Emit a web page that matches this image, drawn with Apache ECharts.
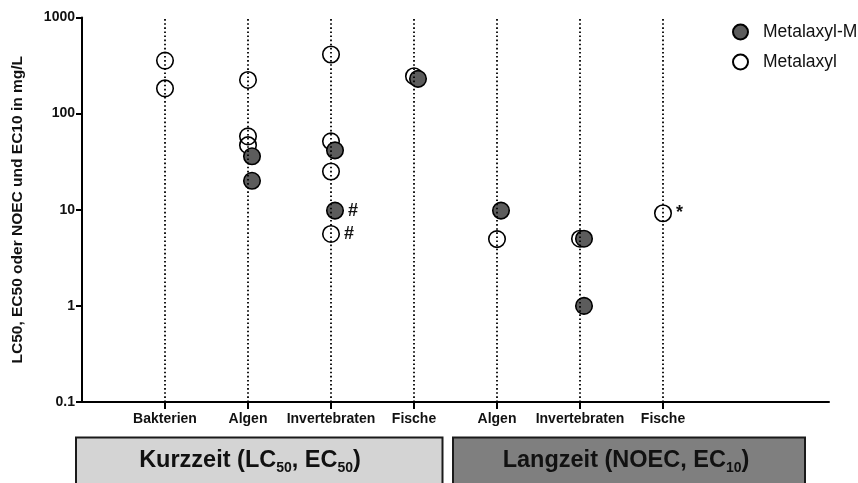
<!DOCTYPE html>
<html>
<head>
<meta charset="utf-8">
<script src="https://cdn.jsdelivr.net/npm/echarts@6/dist/echarts.min.js"></script>
<style>
  html, body { margin: 0; padding: 0; background: #ffffff; }
  #chart { width: 858px; height: 483px; }
</style>
</head>
<body>
<div id="chart"></div>
<script>
// ---- data ----
const categories = ['Bakterien', 'Algen', 'Invertebraten', 'Fische', 'Algen', 'Invertebraten', 'Fische'];
const yTicks = [0.1, 1, 10, 100, 1000];
const yName = 'LC50, EC50 oder NOEC und EC10 in mg/L';

// Metalaxyl-M (filled)
const metMCat   = [1, 1, 2, 2, 3, 4, 5, 5];
const metMVal   = [36, 20, 41.5, 9.8, 230, 9.8, 5, 1];
const metMNote  = ['', '', '', '#', '', '', '', ''];

// Metalaxyl (open)
const metCat    = [0, 0, 1, 1, 1, 2, 2, 2, 2, 3, 4, 5, 6];
const metVal    = [356, 183, 224, 58, 47, 412, 51.5, 25, 5.6, 245, 4.95, 5, 9.2];
const metNote   = ['', '', '', '', '', '', '', '', '#', '', '', '', '*'];

const seriesNames = ['Metalaxyl-M', 'Metalaxyl'];
const groupLabels = [
  ['Kurzzeit (LC', '50', ', EC', '50', ')'],
  ['Langzeit (NOEC, EC', '10', ')']
];

// ---- chart ----
const chart = echarts.init(document.getElementById('chart'), null, { renderer: 'canvas' });
const FONT = '"Liberation Sans", Arial, Helvetica, sans-serif';

function toPoints(cats, vals) {
  return cats.map((c, i) => [c + 1, vals[i]]);
}

function richText(parts) {
  return parts.map((p, i) => (i % 2 === 0 ? '{m|' + p + '}' : '{s|' + p + '}')).join('');
}
const richStyles = {
  m: { fontSize: 23.5, fontWeight: 'bold', fontFamily: FONT, fill: '#111', lineHeight: 28 },
  s: { fontSize: 14, fontWeight: 'bold', fontFamily: FONT, fill: '#111', lineHeight: 14, verticalAlign: 'bottom' }
};

const option = {
  animation: false,
  backgroundColor: '#ffffff',
  textStyle: { fontFamily: FONT },
  grid: { left: 82, right: 29, top: 17.5, bottom: 81, containLabel: false, outerBoundsMode: 'none' },
  legend: {
    orient: 'vertical',
    left: 727,
    top: 18,
    itemWidth: 35,
    itemHeight: 15,
    itemGap: 12,
    symbolKeepAspect: true,
    data: [
      { name: seriesNames[0], icon: 'circle' },
      { name: seriesNames[1], icon: 'circle' }
    ],
    textStyle: { fontSize: 17.5, color: '#111', fontFamily: FONT, lineHeight: 18 },
    selectedMode: false
  },
  xAxis: {
    type: 'value',
    min: 0,
    max: 9,
    interval: 1,
    splitLine: { show: false },
    axisLine: { lineStyle: { color: '#000', width: 2 } },
    axisTick: {
      show: true,
      length: 7,
      lineStyle: { color: '#000', width: 2 },
      customValues: categories.map((c, i) => i + 1)
    },
    axisLabel: {
      customValues: categories.map((c, i) => i + 1),
      formatter: v => categories[Math.round(v) - 1] || '',
      fontSize: 14,
      fontWeight: 'bold',
      color: '#111',
      margin: 10,
      fontFamily: FONT
    }
  },
  yAxis: {
    type: 'log',
    logBase: 10,
    min: yTicks[0],
    max: yTicks[yTicks.length - 1],
    name: yName,
    nameLocation: 'middle',
    nameGap: 56,
    nameTextStyle: { fontSize: 15.5, fontWeight: 'bold', color: '#111', fontFamily: FONT },
    splitLine: { show: false },
    minorTick: { show: false },
    axisLine: { show: true, lineStyle: { color: '#000', width: 2 } },
    axisTick: { show: true, length: 6, lineStyle: { color: '#000', width: 2 } },
    axisLabel: {
      fontSize: 14,
      fontWeight: 'bold',
      color: '#111',
      margin: 7,
      fontFamily: FONT,
      formatter: v => String(v)
    }
  },
  series: [
    {
      name: seriesNames[1],
      type: 'scatter',
      z: 2,
      symbol: 'circle',
      symbolSize: 16.5,
      itemStyle: { color: 'rgba(255,255,255,0)', borderColor: '#000', borderWidth: 1.6, opacity: 1 },
      emphasis: { disabled: true },
      label: {
        show: true,
        position: 'right',
        distance: 4,
        formatter: p => metNote[p.dataIndex],
        fontSize: 18,
        fontWeight: 'bold',
        color: '#111',
        fontFamily: FONT
      },
      data: toPoints(metCat, metVal),
      markLine: {
        silent: true,
        symbol: ['none', 'none'],
        label: { show: false },
        emphasis: { disabled: true },
        lineStyle: { color: '#000', width: 1.8, type: [1.6, 2.5] },
        data: categories.map((c, i) => ({ xAxis: i + 1 }))
      }
    },
    {
      name: seriesNames[0],
      type: 'scatter',
      z: 3,
      symbol: 'circle',
      symbolSize: 16.5,
      symbolOffset: [4, 0],
      itemStyle: { color: '#5c5c5c', borderColor: '#000', borderWidth: 1.6, opacity: 1 },
      emphasis: { disabled: true },
      label: {
        show: true,
        position: 'right',
        distance: 4,
        formatter: p => metMNote[p.dataIndex],
        fontSize: 18,
        fontWeight: 'bold',
        color: '#111',
        fontFamily: FONT
      },
      data: toPoints(metMCat, metMVal)
    }
  ],
  graphic: [
    {
      type: 'rect',
      shape: { x: 76, y: 437.5, width: 366.5, height: 60 },
      style: { fill: '#d4d4d4', stroke: '#1a1a1a', lineWidth: 2 }
    },
    {
      type: 'rect',
      shape: { x: 453, y: 437.5, width: 352, height: 60 },
      style: { fill: '#7f7f7f', stroke: '#1a1a1a', lineWidth: 2 }
    },
    {
      type: 'text',
      x: 250,
      y: 461,
      style: {
        text: richText(groupLabels[0]),
        rich: richStyles,
        align: 'center',
        verticalAlign: 'middle'
      }
    },
    {
      type: 'text',
      x: 626,
      y: 461,
      style: {
        text: richText(groupLabels[1]),
        rich: richStyles,
        align: 'center',
        verticalAlign: 'middle'
      }
    }
  ]
};

chart.setOption(option);
</script>
</body>
</html>
